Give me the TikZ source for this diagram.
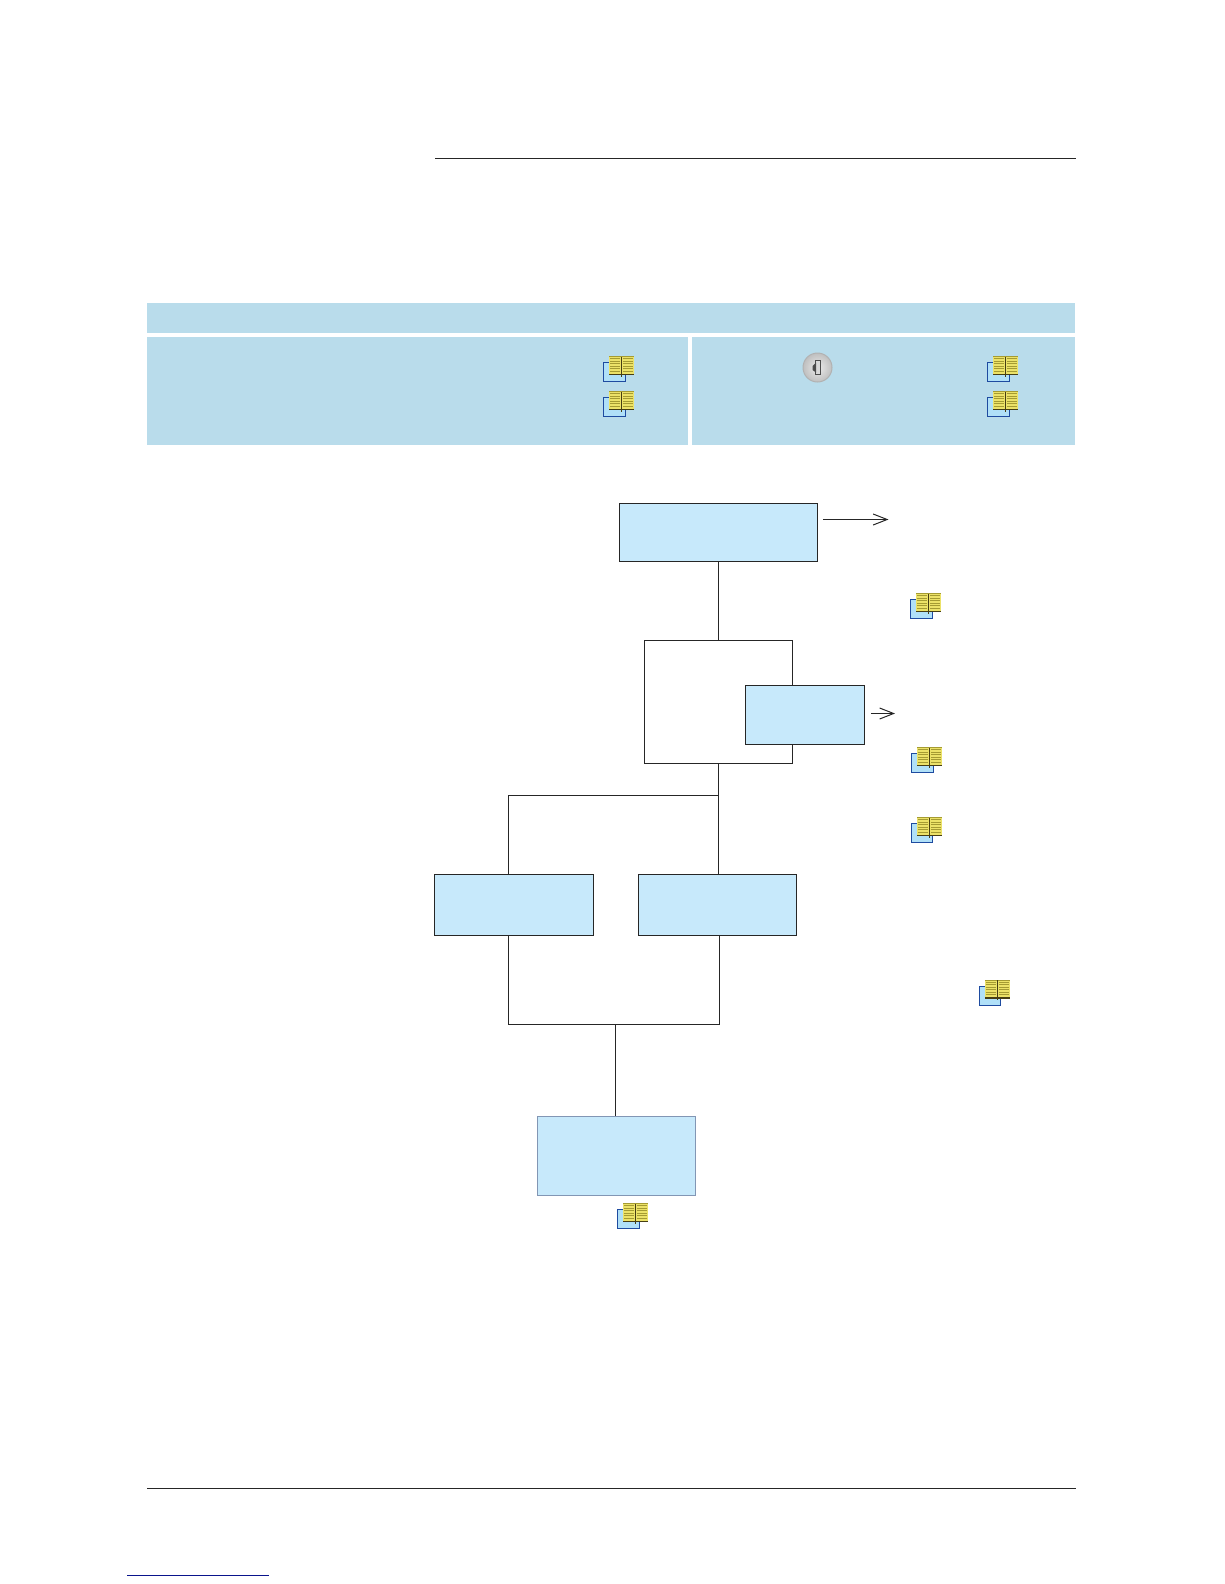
\documentclass[tikz,border=0pt]{standalone}
\usepackage{xcolor}
\usepackage{tikz}
\usetikzlibrary{arrows.meta, positioning}
\definecolor{bandblue}{RGB}{185,220,235}
\definecolor{boxblue}{RGB}{199,233,251}
\definecolor{pageblue}{RGB}{176,224,248}
\definecolor{edgeblue}{RGB}{30,75,160}
\definecolor{greyblue}{RGB}{130,150,180}
\definecolor{bookyellow}{RGB}{236,226,104}
\definecolor{bookline}{RGB}{165,155,50}
\definecolor{bookdark}{RGB}{70,62,20}
\definecolor{linkblue}{RGB}{10,20,140}
\tikzset{
  band/.style={rectangle, fill=bandblue, inner sep=0pt},
  block/.style={rectangle, draw=black!85, fill=boxblue, inner sep=0pt, line width=1pt},
  frame/.style={rectangle, draw=black!85, fill=white, inner sep=0pt, line width=1pt},
  link/.style={line width=1pt, color=black!85},
  arrow/.style={-{Straight Barb[length=14pt,width=11pt]}, line width=1pt, color=black!85},
  rule/.style={line width=1pt, color=black!85},
  bookicon/.pic={
    \fill[pageblue, draw=edgeblue, line width=0.9pt] (0,-19) rectangle (21.5,0);
    \fill[bookyellow] (5.5,-25) rectangle (30.5,-7);
    \foreach \ly in {-23,-20.5,-18,-15.5,-13,-10.5}
      \draw[bookline, line width=0.7pt] (6.5,\ly) -- (16.5,\ly) (19.5,\ly) -- (29.5,\ly);
    \fill[bookline] (5.5,-25.5) rectangle (30.5,-24.5);
    \fill[bookdark] (5.5,-8) rectangle (30.5,-6.5);
    \fill[bookdark] (17.2,-25) rectangle (18.8,-5);
  }
}
\begin{document}
\begin{tikzpicture}[x=1pt, y=-1pt]
\useasboundingbox (0,0) rectangle (1224,1584);
% rules
\coordinate (TL) at (435,158.8);
\coordinate (TR) at (1075.5,158.8);
\coordinate (BL) at (147,1488.5);
\coordinate (BR) at (1075.5,1488.5);
\coordinate (UL) at (127,1575.5);
\coordinate (UR) at (269,1575.5);
\draw[rule] (TL) -- (TR);
\draw[rule] (BL) -- (BR);
\draw[line width=1.2pt, color=linkblue] (UL) -- (UR);
% header bands
\node[band, minimum width=928pt, minimum height=29.5pt] (head) at (611,318) {};
\node[band, minimum width=541pt, minimum height=108pt] (left) at (417.5,391) {};
\node[band, minimum width=383pt, minimum height=108pt] (right) at (883.5,391) {};
% key icon
\node[circle, draw=black!30, line width=1pt, inner color=white!92!black, outer color=black!25, minimum size=29pt, inner sep=0pt] (key) at (817.5,367.5) {};
\draw[black!70, fill=black!15, line width=1pt] (815.5,360.5) rectangle (820,374);
\fill[black!70] (812.5,366) -- (816,362.5) -- (816,372.5) -- (812.5,370) -- cycle;
% flow boxes
\node[block, minimum width=198.5pt, minimum height=58pt] (start) at (718.5,532.5) {};
\node[frame, minimum width=148.5pt, minimum height=123.5pt] (check) at (718.5,702) {};
\node[block, minimum width=119.5pt, minimum height=59.5pt] (sub) at (805,715) {};
\node[block, minimum width=159.4pt, minimum height=61pt] (boxa) at (514,904.8) {};
\node[block, minimum width=158.4pt, minimum height=61pt] (boxb) at (717.5,904.8) {};
\node[rectangle, draw=greyblue, fill=boxblue, inner sep=0pt, line width=1pt, minimum width=158.5pt, minimum height=79.5pt] (finish) at (616.5,1156) {};
\coordinate (hubr) at (718.5,795.3);
\coordinate (hubl) at (508.4,795.3);
\coordinate (joinl) at (508.4,1024.3);
\coordinate (joinr) at (719.4,1024.3);
\coordinate (joinm) at (615.4,1024.3);
\coordinate (outa) at (888.5,519.5);
\coordinate (outb) at (895,713.5);
\draw[link] (start.south) -- (check.north);
\draw[link] (check.south) -- (boxb.north -| check.south);
\draw[link] (hubr) -- (hubl) -- (boxa.north -| hubl);
\draw[link] (boxa.south -| joinl) -- (joinl) -- (joinr) -- (boxb.south -| joinr);
\draw[link] (joinm) -- (finish.north -| joinm);
\draw[arrow] ([xshift=4.5pt]start.east |- outa) -- (outa);
\draw[arrow] ([xshift=5.5pt]sub.east |- outb) -- (outb);
% book icons
\foreach \px/\py in {603.5/381.5, 603.5/416.5, 987.5/381.5, 987.5/416.5, 910.5/618.5, 911.5/772.5, 911.3/842.8, 979.3/1005.3, 617.5/1228.5}
  \pic at (\px,\py) {bookicon};
\end{tikzpicture}
\end{document}
